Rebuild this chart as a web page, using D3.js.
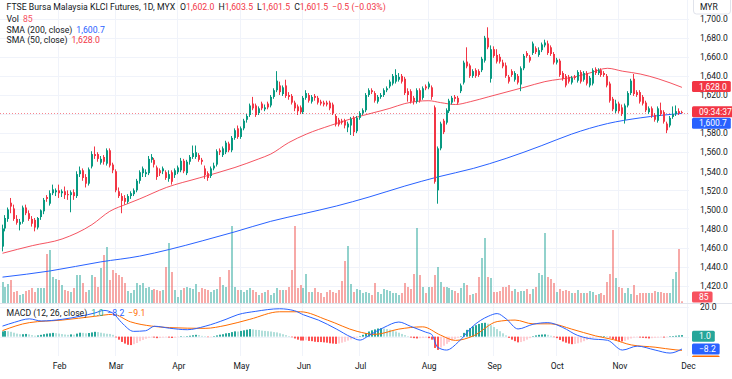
<!DOCTYPE html>
<html>
<head>
<meta charset="utf-8">
<script src="https://cdn.jsdelivr.net/npm/d3@7"></script>
<style>
  body { margin: 0; background: #fff; }
  svg { display: block; font-family: Roboto, "Noto Sans", sans-serif; }
</style>
</head>
<body>
<svg id="chart" width="732" height="379"></svg>
<script>
// daily bars, index 0 = first bar on screen (early Jan), last = Nov 29 (intraday)
const opens = [
  1461,1480,1490,1507,1501,1490,1484,1487,1502,1496,
  1490,1489,1481,1492,1498,1513,1506,1517,1518,1520,
  1517,1519,1516,1515,1518,1514,1537,1541,1534,1527,
  1545,1558,1558,1549,1555,1548,1562,1547,1540,1519,
  1514,1512,1508,1514,1516,1520,1530,1538,1537,1538,
  1552,1552,1544,1541,1540,1539,1532,1539,1536,1539,
  1541,1551,1538,1550,1555,1555,1557,1552,1543,1538,
  1535,1543,1547,1562,1557,1560,1569,1562,1575,1585,
  1576,1585,1594,1599,1611,1609,1601,1611,1605,1611,
  1609,1618,1625,1630,1621,1630,1620,1619,1612,1608,
  1607,1602,1617,1620,1613,1619,1617,1613,1612,1612,
  1612,1610,1598,1594,1593,1593,1586,1588,1596,1582,
  1596,1601,1604,1620,1625,1622,1613,1618,1620,1625,
  1629,1632,1634,1636,1640,1637,1624,1624,1617,1613,
  1625,1617,1629,1628,1628,1607,1520,1564,1593,1591,
  1603,1612,1618,1617,1624,1633,1655,1651,1640,1646,
  1645,1646,1656,1680,1637,1668,1662,1660,1654,1651,
  1639,1645,1636,1640,1631,1648,1664,1660,1664,1669,
  1662,1667,1672,1674,1670,1663,1654,1656,1643,1640,
  1639,1633,1639,1635,1644,1636,1643,1630,1632,1647,
  1643,1646,1643,1640,1632,1616,1603,1611,1607,1594,
  1609,1622,1637,1623,1623,1618,1612,1602,1606,1599,
  1593,1604,1602,1590,1588,1597,1600,1603,1602
];
const highs = [
  1484,1494,1502,1512,1505,1494,1490,1504,1505,1499,
  1493,1491,1492,1500,1512,1515,1520,1526,1522,1526,
  1521,1524,1520,1520,1521,1540,1545,1543,1537,1544,
  1561,1566,1560,1556,1557,1564,1564,1549,1542,1523,
  1517,1515,1516,1519,1522,1532,1541,1545,1542,1556,
  1558,1554,1546,1543,1545,1541,1541,1541,1543,1546,
  1554,1553,1552,1557,1567,1567,1559,1554,1546,1540,
  1545,1549,1563,1564,1566,1572,1571,1577,1585,1588,
  1587,1595,1600,1611,1618,1611,1608,1613,1610,1613,
  1620,1627,1645,1634,1630,1636,1623,1621,1614,1610,
  1609,1619,1625,1622,1620,1621,1619,1615,1614,1614,
  1614,1612,1600,1596,1595,1595,1592,1597,1598,1598,
  1603,1606,1622,1627,1627,1624,1620,1622,1627,1629,
  1636,1642,1647,1643,1642,1639,1627,1626,1619,1627,
  1627,1629,1631,1634,1630,1609,1566,1592,1595,1606,
  1616,1619,1620,1619,1632,1656,1670,1653,1647,1648,
  1647,1660,1682,1691,1672,1671,1668,1663,1657,1654,
  1641,1647,1645,1642,1650,1663,1666,1662,1676,1671,
  1670,1675,1678,1677,1672,1665,1659,1658,1645,1642,
  1641,1640,1641,1646,1646,1645,1645,1640,1648,1649,
  1648,1648,1645,1642,1634,1618,1615,1613,1610,1611,
  1624,1637,1642,1625,1625,1620,1614,1608,1608,1601,
  1608,1612,1604,1592,1598,1608,1609,1606,1603.5
];
const lows = [
  1456,1477,1487,1496,1488,1484,1478,1485,1494,1488,
  1482,1477,1479,1489,1495,1508,1504,1515,1514,1512,
  1513,1511,1510,1497,1510,1512,1534,1530,1523,1525,
  1543,1553,1550,1547,1547,1546,1544,1538,1518,1512,
  1496,1505,1506,1511,1514,1518,1527,1534,1534,1536,
  1549,1544,1531,1535,1537,1531,1529,1526,1533,1537,
  1539,1538,1536,1547,1553,1553,1550,1547,1532,1530,
  1533,1541,1545,1557,1555,1558,1560,1560,1573,1574,
  1574,1583,1591,1597,1604,1597,1599,1604,1603,1605,
  1607,1616,1623,1620,1619,1617,1615,1610,1603,1599,
  1600,1600,1615,1612,1611,1614,1610,1609,1608,1608,
  1604,1599,1587,1587,1589,1585,1581,1578,1577,1580,
  1594,1599,1602,1618,1621,1612,1611,1616,1618,1623,
  1627,1630,1632,1634,1632,1620,1613,1611,1610,1611,
  1612,1615,1625,1626,1615,1527,1506,1562,1579,1589,
  1601,1610,1613,1610,1622,1631,1648,1638,1638,1638,
  1639,1644,1654,1668,1633,1659,1653,1653,1648,1638,
  1632,1639,1634,1631,1624,1646,1659,1654,1662,1663,
  1660,1665,1670,1662,1661,1652,1652,1639,1635,1628,
  1632,1631,1636,1633,1632,1634,1630,1628,1630,1641,
  1641,1639,1639,1628,1612,1603,1601,1601,1598,1590,
  1607,1620,1619,1618,1611,1609,1602,1600,1596,1592,
  1591,1598,1590,1580,1586,1595,1598,1599,1601.5
];
const closes = [
  1480,1491,1500,1503,1490,1486,1487,1502,1496,1490,
  1485,1481,1491,1499,1510,1511,1517,1521,1520,1517,
  1519,1515,1515,1518,1514,1537,1541,1533,1527,1542,
  1558,1556,1553,1553,1550,1562,1546,1541,1520,1514,
  1509,1508,1514,1517,1520,1530,1539,1543,1539,1553,
  1555,1547,1534,1538,1543,1533,1537,1529,1541,1544,
  1551,1540,1550,1555,1559,1560,1552,1550,1536,1533,
  1543,1546,1561,1560,1564,1570,1562,1575,1583,1576,
  1585,1593,1598,1609,1606,1599,1606,1606,1607,1607,
  1618,1625,1635,1623,1628,1619,1618,1612,1606,1603,
  1602,1617,1622,1614,1618,1617,1612,1611,1610,1610,
  1606,1601,1589,1589,1591,1588,1590,1595,1581,1596,
  1601,1604,1620,1625,1623,1614,1618,1620,1625,1627,
  1634,1640,1641,1639,1634,1622,1620,1613,1613,1625,
  1614,1627,1627,1632,1618,1529,1564,1590,1581,1604,
  1614,1617,1616,1612,1630,1654,1650,1640,1645,1640,
  1641,1658,1680,1670,1668,1661,1655,1655,1650,1640,
  1634,1641,1643,1633,1648,1661,1661,1656,1674,1665,
  1667,1673,1675,1664,1663,1654,1657,1641,1637,1630,
  1634,1638,1638,1644,1634,1643,1632,1638,1646,1643,
  1646,1641,1641,1630,1614,1605,1611,1603,1600,1609,
  1622,1635,1621,1620,1613,1611,1604,1606,1598,1594,
  1606,1600,1592,1583,1596,1600,1603,1601,1601.5
];
const volumes = [
  1050,800,950,1150,550,600,400,450,600,650,
  750,550,750,750,750,2450,2650,1300,1200,1150,
  900,650,600,550,750,1400,1400,1000,550,650,
  1400,1300,800,1750,2400,2800,1150,1650,1500,1400,
  1300,1000,600,500,650,1000,900,1000,750,800,
  650,700,650,600,650,1800,3000,1550,650,300,
  650,750,800,750,700,950,550,750,700,650,
  550,650,700,1300,900,800,1650,3850,800,650,
  650,550,650,750,650,550,400,500,550,650,
  400,500,750,650,650,650,800,1650,3850,750,
  900,750,1450,550,550,750,550,500,300,550,
  650,550,500,650,1100,2100,2850,950,550,700,
  650,500,550,500,400,1000,550,450,700,650,
  600,500,500,400,500,1000,800,700,1450,3750,
  1400,800,500,800,800,1400,1800,1050,800,800,
  750,650,600,500,750,1000,900,400,450,500,
  1300,2250,3250,1300,1250,550,550,600,800,800,
  900,600,700,550,600,600,700,450,700,800,
  1500,1400,3500,1300,1200,1000,550,700,600,650,
  600,500,500,650,500,500,500,600,550,400,
  450,500,400,1050,1450,3650,1250,800,750,500,
  750,450,900,400,500,500,500,500,500,600,
  550,550,500,500,500,1200,1550,2700,85
];
// MACD histogram, one value per bar
const hist = [
  3.5,3.8,3.6,3.2,2.6,2.0,1.6,
  1.6,1.8,1.5,1.0,0.6,0.8,1.2,1.6,2.0,
  2.2,2.5,2.3,2.0,1.7,1.4,1.2,1.5,1.3,2.0,2.6,2.5,2.2,2.4,2.8,3.2,3.0,
  2.6,2.2,1.9,1.8,1.2,
  -0.5,-2.0,-3.5,-4.6,-5.4,-5.6,-5.0,-4.2,-3.0,
  -2.2,-1.4,-0.8,-0.4,-0.6,-1.0,-0.9,
  -0.6,-0.4,-0.6,-0.9,-0.7,-0.3,0.2,0.1,0.3,0.6,0.9,1.2,1.0,0.5,0.1,-0.3,-0.2,0.2,0.8,
  1.3,1.6,2.2,2.4,3.0,3.5,3.4,3.8,4.2,4.6,5.0,4.8,4.5,4.4,4.0,3.8,3.6,3.4,3.0,2.8,2.2,1.6,1.0,
  0.4,-0.4,-1.2,-2.0,-2.6,-2.6,-2.4,-2.8,-3.0,-3.4,-3.6,-3.6,-3.8,-4.0,-4.4,-4.6,-4.8,-4.5,-4.0,-3.4,-2.6,
  -1.8,-1.2,-0.6,0.2,
  1.2,2.4,3.4,4.2,4.8,5.4,5.6,5.4,5.0,4.6,4.0,3.4,2.6,1.8,1.0,
  0.2,-0.6,-1.0,-1.2,-1.0,-0.8,-0.6,-1.0,
  -2.0,-7.5,-8.8,
  -7.2,-6.0,-4.8,-3.6,-2.6,-1.6,-0.8,0.2,
  2.5,4.5,5.6,6.8,7.6,8.4,9.0,9.2,8.6,
  7.6,6.4,5.0,3.6,2.2,
  0.8,-0.8,-2.0,-3.0,-3.8,-3.6,-3.0,-2.0,
  -1.0,0.2,0.8,1.2,1.4,1.5,1.2,0.6,
  -0.2,-1.0,-2.2,-3.2,-4.0,-4.6,-5.0,-4.8,-4.4,-3.8,-3.0,-2.2,-1.4,
  -0.8,-0.4,-0.2,0.2,0.4,0.2,-0.6,-1.6,
  -2.4,-3.0,-3.2,-2.8,-2.0,-1.2,-0.6,
  -0.4,-0.6,-0.8,-1.0,-1.2,-1.0,-0.8,-0.6,-0.4,-0.6,-0.3,0.1,0.4,0.6,0.8,1.0
];

// indicator lines read at sample bars
const sma50Bars = [0,10,20,30,36,42,46,55,66,78,86,90,96,102,110,118,124,130,135,143,147,152,157,163,175,182,192,197,203,208,214,220,228];
const sma50Vals = [1454,1462,1469,1484,1498,1506,1511,1523,1533,1544,1553,1558,1570,1579,1588,1596,1601,1606,1611,1614,1612,1610,1613,1618,1628,1634,1639,1643,1648,1645,1642,1637,1628];
const sma200Bars = [0,16,33,46,56,67,78,90,101,112,123,135,146,158,169,181,191,203,214,228];
const sma200Vals = [1429,1435.5,1445,1451,1458,1467,1476.5,1487.5,1495.5,1503.5,1513,1524.5,1534,1543,1553.5,1567,1579,1590,1596,1600.7];
const macdBars = [0,4,9,13,20,26,31,34,37,40,44,48,51,56,62,68,75,79,85,93,98,101,106,112,117,120,123,128,133,137,142,144,146,149,153,158,163,166,169,173,178,183,188,193,197,203,208,213,219,224,228];
const macdVals = [7.0,9.5,11.8,10.4,11.5,13.5,15.7,17.4,15.7,9.3,3.5,3.9,6.9,5.6,4.6,6.9,11.5,14.6,16.8,18.5,17.2,14.5,11.0,5.1,-0.3,-2.3,0.8,6.1,9.7,6.8,3.0,1.5,-7.0,-8.9,-3.5,7.2,13.5,15.3,11.8,5.1,8.2,9.3,6.1,0.8,-1.3,-2.4,-8.9,-6.3,-8.9,-10.9,-8.2];
const signalBars = [0,9,20,31,37,43,50,56,68,75,83,93,100,109,119,125,133,141,147,152,158,166,172,178,184,191,199,205,211,219,226,228];
const signalVals = [4.0,9.3,11.0,13.5,14.8,9.8,7.0,6.0,5.5,7.5,11.5,16.5,16.5,11.0,3.5,1.5,5.0,6.5,1.0,-2.5,0.5,10.0,11.0,8.5,8.5,5.0,0.5,-2.0,-5.5,-7.0,-8.8,-9.1];

const monthNames = ["Feb","Mar","Apr","May","Jun","Jul","Aug","Sep","Oct","Nov","Dec"];
const monthBars = [19,38,59,80,101,120,143,165,186,207,230];
// 1,600.0 sits under the live-price tag, so it is not labelled
const priceTicks = [1420,1440,1460,1480,1500,1520,1540,1560,1580,1620,1640,1660,1680,1700];
const gridTicks = d3.range(1420, 1701, 20);

const n = closes.length;
[opens, highs, lows, volumes, hist].forEach((a, k) => {
  if (a.length !== n) throw new Error("length mismatch in array " + k + ": " + a.length + " vs " + n);
});

const svg = d3.select("#chart");
const plotW = 689;
const mainBottom = 303;
const oscTop = 304, oscBottom = 356;

const UP = "#089981", DOWN = "#f23645";
const TXT = "#131722";

const x = d3.scaleLinear().domain([0, 229]).range([2.5, 2.5 + 229 * 2.98]);
const y = d3.scaleLinear().domain([1420, 1700]).range([285.7, 18.7]);
const yVol = d3.scaleLinear().domain([0, d3.max(volumes)]).range([mainBottom, mainBottom - 77]);
const yMacd = d3.scaleLinear().domain([-8.2, 20]).range([349, 306.5]);

const px = i => Math.round(x(i));

svg.append("rect").attr("width", 732).attr("height", 379).attr("fill", "#fff");

const defs = svg.append("defs");
defs.append("clipPath").attr("id", "clipMain")
  .append("rect").attr("x", 0).attr("y", 0).attr("width", plotW).attr("height", mainBottom);
defs.append("clipPath").attr("id", "clipOsc")
  .append("rect").attr("x", 0).attr("y", oscTop).attr("width", plotW).attr("height", oscBottom - oscTop);
defs.append("clipPath").attr("id", "clipOscAxis")
  .append("rect").attr("x", plotW).attr("y", oscTop).attr("width", 732 - plotW).attr("height", oscBottom - oscTop + 1);

// grid
const grid = svg.append("g").attr("stroke", "#f0f3fa").attr("stroke-width", 1);
grid.selectAll("line.h").data(gridTicks).join("line").attr("class", "h")
  .attr("x1", 0).attr("x2", plotW)
  .attr("y1", d => Math.round(y(d)) + 0.5).attr("y2", d => Math.round(y(d)) + 0.5);
grid.selectAll("line.m").data([0, 20]).join("line").attr("class", "m")
  .attr("x1", 0).attr("x2", plotW)
  .attr("y1", d => Math.round(yMacd(d)) + 0.5).attr("y2", d => Math.round(yMacd(d)) + 0.5);
grid.selectAll("line.v").data(monthBars).join("line").attr("class", "v")
  .attr("x1", d => px(d) - 0.5).attr("x2", d => px(d) - 0.5)
  .attr("y1", 0).attr("y2", oscBottom);

// pane separator
svg.append("line").attr("x1", 0).attr("x2", 732)
  .attr("y1", mainBottom + 0.5).attr("y2", mainBottom + 0.5)
  .attr("stroke", "#e0e3eb");

const mainG = svg.append("g").attr("clip-path", "url(#clipMain)");

// volume
mainG.append("g").selectAll("rect").data(volumes).join("rect")
  .attr("x", (d, i) => px(i) - 1)
  .attr("width", 2)
  .attr("y", d => Math.min(yVol(d), mainBottom - 1))
  .attr("height", d => Math.max(1, mainBottom - yVol(d)))
  .attr("fill", (d, i) => closes[i] >= opens[i] ? "rgba(38,166,154,0.5)" : "rgba(239,83,80,0.5)");

// moving averages
const line = d3.line().x(d => x(d[0])).y(d => y(d[1])).curve(d3.curveMonotoneX);
mainG.append("path").datum(d3.zip(sma200Bars, sma200Vals))
  .attr("fill", "none").attr("stroke", "#2962ff").attr("stroke-width", 1).attr("d", line);
mainG.append("path").datum(d3.zip(sma50Bars, sma50Vals))
  .attr("fill", "none").attr("stroke", "#f23645").attr("stroke-opacity", 0.85).attr("stroke-width", 1).attr("d", line);

// last price line
const lastY = Math.round(y(closes[n - 1])) + 0.5;
mainG.append("line").attr("x1", 0).attr("x2", plotW).attr("y1", lastY).attr("y2", lastY)
  .attr("stroke", DOWN).attr("stroke-opacity", 0.6).attr("stroke-dasharray", "1,2");

// candles
const candles = mainG.append("g").selectAll("g").data(closes).join("g");
candles.append("line")
  .attr("x1", (d, i) => px(i) - 0.5).attr("x2", (d, i) => px(i) - 0.5)
  .attr("y1", (d, i) => y(highs[i])).attr("y2", (d, i) => y(lows[i]))
  .attr("stroke", (d, i) => d >= opens[i] ? UP : DOWN);
candles.append("rect")
  .attr("x", (d, i) => px(i) - 1)
  .attr("width", 2)
  .attr("y", (d, i) => y(Math.max(d, opens[i])))
  .attr("height", (d, i) => Math.max(1, Math.abs(y(d) - y(opens[i]))))
  .attr("fill", (d, i) => d >= opens[i] ? UP : DOWN);

// MACD pane
const oscG = svg.append("g").attr("clip-path", "url(#clipOsc)");
oscG.append("g").selectAll("rect").data(hist).join("rect")
  .attr("x", (d, i) => px(i) - 1)
  .attr("width", 2)
  .attr("y", d => Math.min(yMacd(d), yMacd(0)))
  .attr("height", d => Math.max(0.5, Math.abs(yMacd(d) - yMacd(0))))
  .attr("fill", (d, i) => {
    const prev = i > 0 ? hist[i - 1] : d;
    if (d >= 0) return d >= prev ? "#26a69a" : "#b2dfdb";
    return d <= prev ? "#ff5252" : "#ffcdd2";
  });
const mline = d3.line().x(d => x(d[0])).y(d => yMacd(d[1])).curve(d3.curveMonotoneX);
oscG.append("path").datum(d3.zip(signalBars, signalVals))
  .attr("fill", "none").attr("stroke", "#ff6d00").attr("stroke-width", 1).attr("d", mline);
oscG.append("path").datum(d3.zip(macdBars, macdVals))
  .attr("fill", "none").attr("stroke", "#2962ff").attr("stroke-width", 1).attr("d", mline);

// axes
const priceAxis = svg.append("g").attr("transform", "translate(691,0)")
  .call(d3.axisRight(y).tickValues(priceTicks).tickFormat(d3.format(",.1f")).tickSize(0).tickPadding(9));
const macdAxis = svg.append("g").attr("transform", "translate(691,0)")
  .call(d3.axisRight(yMacd).tickValues([20]).tickFormat(d3.format(".1f")).tickSize(0).tickPadding(9));
const timeAxis = svg.append("g").attr("transform", `translate(0,${oscBottom})`)
  .call(d3.axisBottom(x).tickValues(monthBars).tickFormat((d, i) => monthNames[i]).tickSize(0).tickPadding(7));
[priceAxis, macdAxis, timeAxis].forEach(g => {
  g.select(".domain").remove();
  g.selectAll("text").attr("fill", TXT).style("font-size", "8.5px").style("font-family", "Roboto, sans-serif");
});

// price scale tags
function tag(parent, yc, text, fill, minW) {
  const g = parent.append("g");
  const r = g.append("rect").attr("x", 692).attr("y", yc - 5.5).attr("height", 11).attr("rx", 1.5).attr("fill", fill);
  const t = g.append("text").attr("x", 699).attr("y", yc).attr("dy", "0.35em")
    .attr("fill", "#fff").style("font-size", "8.5px").text(text);
  const w = t.node().getComputedTextLength();
  r.attr("width", Math.max(minW || 0, w + 11));
}
tag(svg, y(sma50Vals[sma50Vals.length - 1]) - 0.8, "1,628.0", "#f23645", 38);
tag(svg, y(closes[n - 1]) - 1, "09:34:37", "#f23645", 38);
tag(svg, y(closes[n - 1]) + 10.5, "1,600.7", "#2962ff", 38);
tag(svg, mainBottom - 6, d3.format(",")(volumes[n - 1]), "#f7525f");
const oscTags = svg.append("g").attr("clip-path", "url(#clipOscAxis)");
tag(oscTags, yMacd(hist[n - 1]) + 1, hist[n - 1].toFixed(1), "#26a69a");
tag(oscTags, yMacd(macdVals[macdVals.length - 1]), "\u22128.2", "#2962ff");
tag(oscTags, yMacd(macdVals[macdVals.length - 1]) + 12, "\u22129.1", "#ff6d00");

// currency box
svg.append("rect").attr("x", 693.5).attr("y", -4).attr("width", 37).attr("height", 18).attr("rx", 3)
  .attr("fill", "#fff").attr("stroke", "#e0e3eb");
svg.append("text").attr("x", 700).attr("y", 7).attr("dy", "0.35em").attr("fill", TXT)
  .style("font-size", "8.5px").text("MYR");

// legends
function legend(yBase, parts) {
  const t = svg.append("text").attr("x", 6.5).attr("y", yBase).style("font-size", "8.7px");
  parts.forEach(([s, c, dx]) => t.append("tspan").attr("fill", c).attr("dx", dx || 0).text(s));
}
const last = n - 1;
const fmt = d3.format(",.1f");
legend(9.8, [
  ["FTSE Bursa Malaysia KLCI Futures, 1D, MYX", TXT],
  ["O", TXT, 5], [fmt(opens[last]), DOWN],
  ["H", TXT, 4], [fmt(highs[last]), DOWN],
  ["L", TXT, 4], [fmt(lows[last]), DOWN],
  ["C", TXT, 4], [fmt(closes[last]), DOWN],
  ["\u22120.5 (\u22120.03%)", DOWN, 4]
]);
legend(22, [["Vol", TXT], [String(volumes[last]), "#f7525f", 4]]);
legend(32.8, [["SMA (200, close)", TXT], ["1,600.7", "#2962ff", 4]]);
legend(43.2, [["SMA (50, close)", TXT], ["1,628.0", DOWN, 4]]);
legend(315.5, [["MACD (12, 26, close)", TXT], ["1.0", "#22ab94", 4], ["\u22128.2", "#2962ff", 4], ["\u22129.1", "#ff6d00", 4]]);
</script>
</body>
</html>
